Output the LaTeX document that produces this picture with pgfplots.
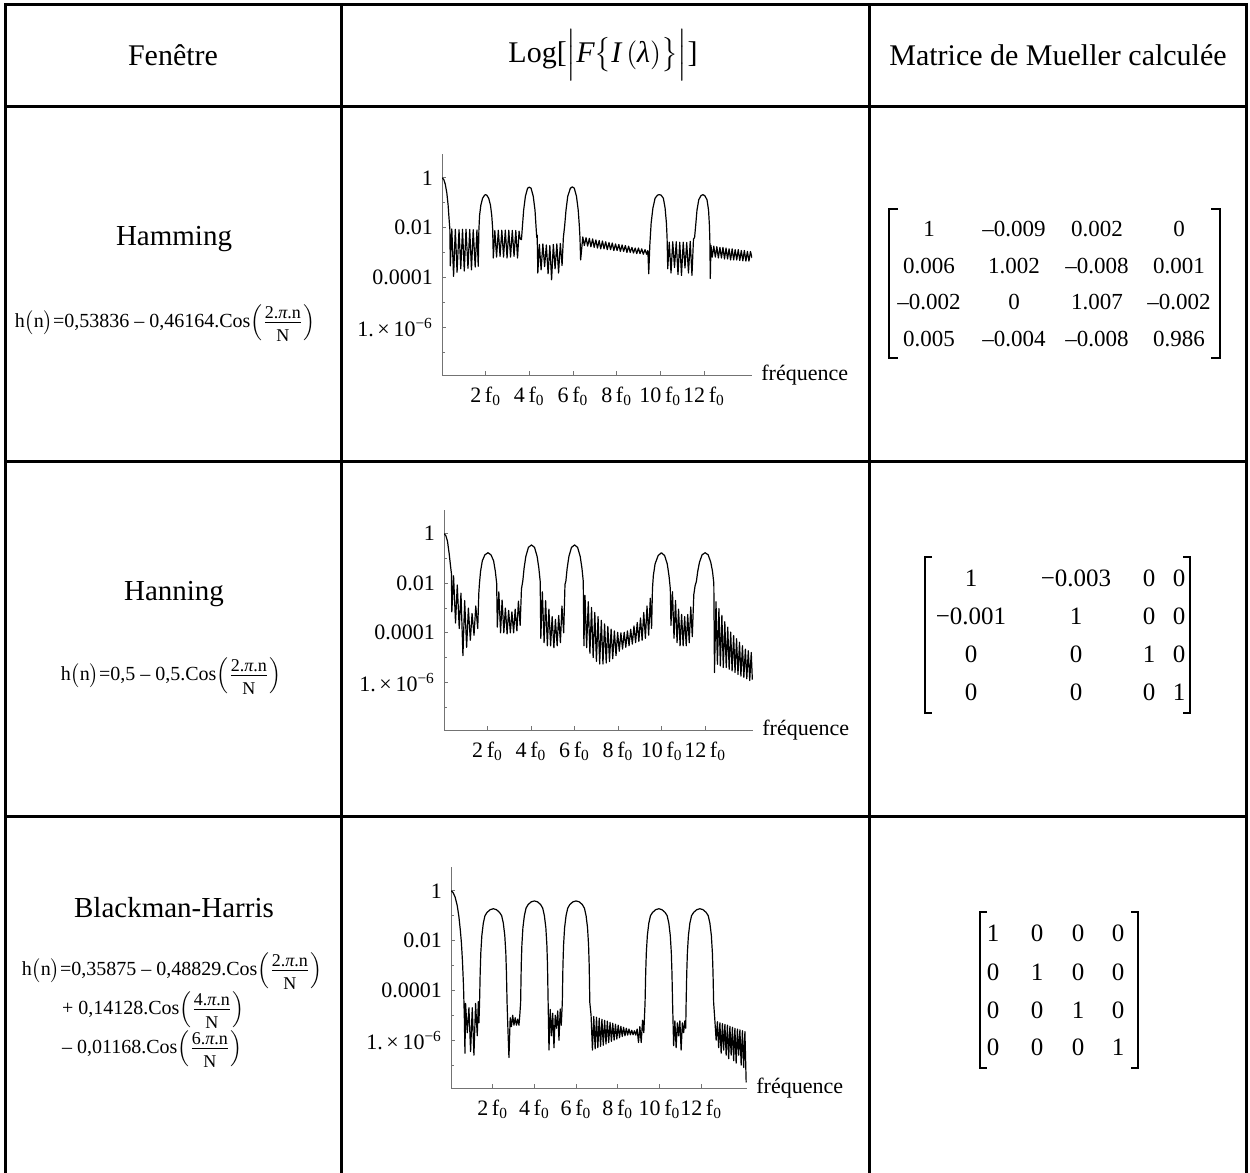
\documentclass[border=0pt]{standalone}
\usepackage{fontspec}
\setmainfont{Liberation Serif}
\usepackage{amsmath}
\usepackage{graphicx}
\usepackage{pgfplots}
\pgfplotsset{compat=1.18}

\newcommand{\tf}{\fontsize{11}{13}\selectfont}
\newcommand{\fz}{\textsubscript{0}}
\newcommand{\mA}[1]{{\fontsize{11.5}{13}\selectfont #1}}
\newcommand{\mB}[1]{{\fontsize{12.5}{14}\selectfont #1}}
\newcommand{\ff}{\fontsize{10}{12}\selectfont}
\newcommand{\fr}[1]{\left(\frac{\text{\fontsize{9}{10}\selectfont #1.\textit{π}.n\rule[-1.6pt]{0pt}{0pt}}}{\text{\fontsize{9}{10}\selectfont \rule{0pt}{8.6pt}N}}\right)}

\pgfplotsset{specaxis/.style={
  scale only axis, xmin=0, xmax=14.2, ymin=1.2e-8, ymax=9,
  axis x line*=bottom, axis y line*=left,
  axis line style={black!55, line width=0.5pt},
  tick align=inside, major tick length=2.2pt, minor tick length=1.3pt,
  every tick/.style={black!55, line width=0.4pt},
  xtick={2,4,6,8,10,12},
  xticklabels={2\,f\fz,4\,f\fz,6\,f\fz,8\,f\fz,10\,f\fz,12\,f\fz},
  ytick={1,1e-2,1e-4,1e-6},
  yticklabels={1,0.01,0.0001,{1.\,×\,10\textsuperscript{−6}}},
  minor ytick={10,1e-1,1e-3,1e-5,1e-7},
  ticklabel style={font=\tf},
  xticklabel style={yshift=-2.5pt},
  yticklabel style={xshift=-1pt},
  xlabel={fréquence},
  xlabel style={at={(axis description cs:1,0)}, anchor=west, xshift=4.5pt, font=\tf, inner sep=0pt},
}}

\begin{document}
\begin{tikzpicture}[x=0.5pt,y=-0.5pt]
\path[use as bounding box] (0,0) rectangle (1250,1173);
% table lines
\draw[line width=1.5pt] (5,1173) -- (5,4) -- (1246,4) -- (1246,1173);
\draw[line width=1.5pt] (5,106) -- (1246,106);
\draw[line width=1.5pt] (5,461) -- (1246,461);
\draw[line width=1.5pt] (5,816) -- (1246,816);
\draw[line width=1.5pt] (341,4) -- (341,1173);
\draw[line width=1.5pt] (869,4) -- (869,1173);

% header
\node[font=\fontsize{15}{18}\selectfont] at (173,55) {Fenêtre};
\node[font=\fontsize{15}{18}\selectfont] at (603,55) {Log[$\Bigl|\textit{F}\bigl\{\textit{I}\,(\textit{λ})\bigr\}\Bigr|$]};
\node[font=\fontsize{15}{18}\selectfont] at (1058,55) {Matrice de Mueller calculée};

% window names and formulas
\node[font=\fontsize{14.5}{17}\selectfont] at (174,239) {Hamming};
\node[font=\ff] at (165,323) {$\text{h}\bigl(\text{n}\bigr)\text{=0,53836 – 0,46164.Cos}\!\fr{2}$};
\node[font=\fontsize{14.5}{17}\selectfont] at (174,594) {Hanning};
\node[font=\ff] at (171,676) {$\text{h}\bigl(\text{n}\bigr)\text{=0,5 – 0,5.Cos}\!\fr{2}$};
\node[font=\fontsize{14.5}{17}\selectfont] at (174,908) {Blackman-Harris};
\node[font=\ff] at (172,971) {$\text{h}\bigl(\text{n}\bigr)\text{=0,35875 – 0,48829.Cos}\!\fr{2}$};
\node[font=\ff, anchor=west] at (55,1010) {$\text{+ 0,14128.Cos}\!\fr{4}$};
\node[font=\ff, anchor=west] at (55,1049) {$\text{– 0,01168.Cos}\!\fr{6}$};

% matrix 1
\draw[line width=0.6pt] (898,209) -- (889,209) -- (889,358) -- (898,358);
\draw[line width=0.6pt] (1211,209) -- (1220,209) -- (1220,358) -- (1211,358);
\node at (929,229) {\mA{1}};      \node at (1014,229) {\mA{–0.009}}; \node at (1097,229) {\mA{0.002}};  \node at (1179,229) {\mA{0}};
\node at (929,266) {\mA{0.006}};  \node at (1014,266) {\mA{1.002}};  \node at (1097,266) {\mA{–0.008}}; \node at (1179,266) {\mA{0.001}};
\node at (929,302) {\mA{–0.002}}; \node at (1014,302) {\mA{0}};      \node at (1097,302) {\mA{1.007}};  \node at (1179,302) {\mA{–0.002}};
\node at (929,339) {\mA{0.005}};  \node at (1014,339) {\mA{–0.004}}; \node at (1097,339) {\mA{–0.008}}; \node at (1179,339) {\mA{0.986}};

% matrix 2
\draw[line width=0.6pt] (932,557) -- (925,557) -- (925,713) -- (932,713);
\draw[line width=0.6pt] (1183,557) -- (1190,557) -- (1190,713) -- (1183,713);
\node at (971,578) {\mB{1}};      \node at (1076,578) {\mB{−0.003}}; \node at (1149,578) {\mB{0}}; \node at (1179,578) {\mB{0}};
\node at (971,616) {\mB{−0.001}}; \node at (1076,616) {\mB{1}};      \node at (1149,616) {\mB{0}}; \node at (1179,616) {\mB{0}};
\node at (971,654) {\mB{0}};      \node at (1076,654) {\mB{0}};      \node at (1149,654) {\mB{1}}; \node at (1179,654) {\mB{0}};
\node at (971,692) {\mB{0}};      \node at (1076,692) {\mB{0}};      \node at (1149,692) {\mB{0}}; \node at (1179,692) {\mB{1}};

% matrix 3
\draw[line width=0.6pt] (987,912) -- (980,912) -- (980,1068) -- (987,1068);
\draw[line width=0.6pt] (1131,912) -- (1138,912) -- (1138,1068) -- (1131,1068);
\node at (993,933) {\mB{1}};  \node at (1037,933) {\mB{0}};  \node at (1078,933) {\mB{0}};  \node at (1118,933) {\mB{0}};
\node at (993,972) {\mB{0}};  \node at (1037,972) {\mB{1}};  \node at (1078,972) {\mB{0}};  \node at (1118,972) {\mB{0}};
\node at (993,1010) {\mB{0}}; \node at (1037,1010) {\mB{0}}; \node at (1078,1010) {\mB{1}}; \node at (1118,1010) {\mB{0}};
\node at (993,1047) {\mB{0}}; \node at (1037,1047) {\mB{0}}; \node at (1078,1047) {\mB{0}}; \node at (1118,1047) {\mB{1}};

\coordinate (O1) at (442,375);
\coordinate (O2) at (444,730);
\coordinate (O3) at (451,1088);

\begin{scope}[x=1cm,y=1cm]
% Hamming
\begin{semilogyaxis}[specaxis, at={(O1)}, anchor=south west, width=155pt, height=110.5pt]
\addplot[black, line width=0.6pt, line join=round] coordinates {
(0,1.0) (0.08,0.85) (0.15,0.55) (0.22,0.25) (0.28,0.08) (0.32,0.025) (0.36,0.0085)
(0.38,2.9e-4) (0.45,0.0088) (0.53,1.1e-4) (0.61,0.0085) (0.69,1.6e-4) (0.78,0.0082) (0.86,2.2e-4) (0.94,0.0085) (1.02,1.8e-4) (1.10,0.0086) (1.19,2.3e-4) (1.27,0.0084) (1.35,2.0e-4) (1.43,0.0082) (1.52,2.6e-4) (1.60,0.008) (1.66,2.8e-4) (1.69,0.008)
(1.72,0.03) (1.78,0.08) (1.86,0.15) (1.95,0.2) (2.0,0.21) (2.05,0.2) (2.14,0.15) (2.22,0.08) (2.28,0.03) (2.32,0.009)
(2.35,6e-4) (2.42,0.0075) (2.50,6.5e-4) (2.58,0.0078) (2.66,7e-4) (2.74,0.0078) (2.82,6.5e-4) (2.90,0.0079) (2.98,6e-4) (3.06,0.0078) (3.14,6.5e-4) (3.22,0.0077) (3.30,7e-4) (3.38,0.0076) (3.46,6e-4) (3.53,0.0072) (3.58,0.0035) (3.64,0.0033)
(3.68,0.01) (3.74,0.05) (3.82,0.18) (3.92,0.38) (4.0,0.42) (4.08,0.38) (4.18,0.18) (4.26,0.05) (4.31,0.01) (4.34,0.004) (4.36,0.005)
(4.39,1.5e-4) (4.46,0.0021) (4.54,2e-4) (4.62,0.0022) (4.70,2.7e-4) (4.78,0.002) (4.86,1.4e-4) (4.94,0.0019) (5.02,8e-5) (5.10,0.0021) (5.18,2.2e-4) (5.26,0.0022) (5.34,1.5e-4) (5.42,0.0023) (5.50,3e-4) (5.56,0.004)
(5.62,0.012) (5.68,0.05) (5.76,0.18) (5.88,0.38) (5.97,0.43) (6.06,0.38) (6.16,0.18) (6.24,0.05) (6.29,0.012) (6.32,0.004) (6.35,5e-4)
(6.45,0.0042) (6.52,0.0019) (6.60,0.0039) (6.67,0.0018) (6.75,0.0037) (6.82,0.0017) (6.90,0.0035) (6.97,0.0016) (7.05,0.0032) (7.12,0.0015) (7.20,0.0030) (7.27,0.0014) (7.35,0.0029) (7.42,0.0014) (7.50,0.0027) (7.57,0.0013) (7.65,0.0025) (7.72,0.0013) (7.80,0.0024) (7.87,0.0012) (7.95,0.0022) (8.02,0.0012) (8.10,0.0021) (8.17,0.0011) (8.25,0.0020) (8.32,0.0011) (8.40,0.0019) (8.47,0.0010) (8.55,0.0018) (8.62,0.0010) (8.70,0.0016) (8.77,9.5e-4) (8.85,0.0015) (8.92,9e-4) (9.00,0.0015) (9.07,9e-4) (9.15,0.0014) (9.22,8.5e-4) (9.30,0.0013) (9.37,8.5e-4) (9.43,0.0012)
(9.47,1.4e-4) (9.52,0.002) (9.58,0.015) (9.66,0.06) (9.76,0.15) (9.87,0.2) (9.95,0.21) (10.04,0.2) (10.14,0.15) (10.22,0.06) (10.28,0.015) (10.31,0.004)
(10.34,2.2e-4) (10.41,0.0026) (10.49,1.5e-4) (10.57,0.0027) (10.65,2.5e-4) (10.73,0.0027) (10.81,1.3e-4) (10.89,0.0026) (10.97,1.2e-4) (11.05,0.0026) (11.13,2.4e-4) (11.21,0.0025) (11.29,1.5e-4) (11.37,0.0028) (11.45,1.2e-4) (11.52,0.0035) (11.57,0.004)
(11.62,0.012) (11.68,0.05) (11.76,0.13) (11.86,0.19) (11.95,0.21) (12.04,0.19) (12.14,0.13) (12.21,0.05) (12.25,0.012) (12.27,0.003) (12.29,9e-5)
(12.32,0.0019) (12.38,6.5e-4) (12.45,0.0018) (12.52,6.5e-4) (12.59,0.0017) (12.66,6e-4) (12.73,0.0016) (12.80,6e-4) (12.87,0.0016) (12.94,5.5e-4) (13.01,0.0015) (13.08,5.5e-4) (13.15,0.0014) (13.22,5e-4) (13.29,0.0014) (13.36,5e-4) (13.43,0.0013) (13.50,5e-4) (13.57,0.0013) (13.64,4.8e-4) (13.71,0.0012) (13.78,4.6e-4) (13.85,0.0012) (13.92,4.5e-4) (13.99,0.0011) (14.06,4.5e-4) (14.13,0.0011) (14.2,6e-4)
};
\end{semilogyaxis}

% Hanning
\begin{semilogyaxis}[specaxis, at={(O2)}, anchor=south west, width=154.5pt, height=110pt]
\addplot[black, line width=0.6pt, line join=round] coordinates {
(0,1.0) (0.08,0.85) (0.16,0.5) (0.24,0.15) (0.30,0.05) (0.34,0.025)
(0.36,7e-4) (0.44,0.02) (0.53,2.5e-4) (0.61,0.0085) (0.70,1.5e-4) (0.78,0.004) (0.87,1.2e-5) (0.95,0.002) (1.04,2.6e-5) (1.12,0.001) (1.21,5e-5) (1.29,6e-4) (1.38,8e-5) (1.46,0.0012) (1.55,1.5e-4) (1.60,0.004)
(1.63,0.01) (1.68,0.03) (1.76,0.08) (1.88,0.14) (2.02,0.17) (2.16,0.14) (2.28,0.08) (2.36,0.03) (2.42,0.01)
(2.45,1.7e-4) (2.52,0.0045) (2.60,1e-4) (2.67,0.0021) (2.75,1e-4) (2.82,0.001) (2.90,9e-5) (2.97,8e-4) (3.05,1e-4) (3.12,7e-4) (3.20,1e-4) (3.27,9e-4) (3.35,1.2e-4) (3.42,0.0019) (3.50,2e-4) (3.56,0.006)
(3.62,0.012) (3.68,0.04) (3.76,0.12) (3.88,0.28) (4.02,0.35) (4.16,0.28) (4.28,0.12) (4.36,0.04) (4.42,0.012)
(4.45,6e-5) (4.52,0.0045) (4.60,4e-5) (4.67,0.002) (4.75,3e-5) (4.82,9e-4) (4.90,3e-5) (4.97,4.5e-4) (5.05,2.5e-5) (5.12,3.5e-4) (5.20,3e-5) (5.27,5e-4) (5.35,4e-5) (5.42,0.0012) (5.50,1e-4) (5.56,0.009)
(5.60,0.012) (5.66,0.04) (5.74,0.12) (5.86,0.28) (6.0,0.35) (6.14,0.28) (6.26,0.12) (6.34,0.04) (6.40,0.012)
(6.43,3e-5) (6.48,0.0032) (6.555,2.5e-5) (6.63,0.0018) (6.705,1.5e-5) (6.78,0.00105) (6.855,1e-5) (6.93,6.6e-4) (7.005,7e-6) (7.08,4.5e-4) (7.155,5.5e-6) (7.23,3.2e-4) (7.305,5.5e-6) (7.38,2.3e-4) (7.455,6e-6) (7.53,1.8e-4) (7.605,7e-6) (7.68,1.4e-4) (7.755,9e-6) (7.83,1.2e-4) (7.905,1.2e-5) (7.98,1.05e-4) (8.055,1.8e-5) (8.13,1e-4) (8.205,2.2e-5) (8.28,1.05e-4) (8.355,2.6e-5) (8.43,1.2e-4) (8.505,3e-5) (8.58,1.4e-4) (8.655,3.5e-5) (8.73,1.9e-4) (8.805,4e-5) (8.88,2.6e-4) (8.955,4.5e-5) (9.03,4e-4) (9.105,5e-5) (9.18,6.6e-4) (9.255,6e-5) (9.33,0.0012) (9.405,8e-5) (9.48,0.0025) (9.54,1.5e-4)
(9.58,0.006) (9.62,0.02) (9.70,0.06) (9.84,0.13) (9.99,0.17) (10.14,0.13) (10.26,0.06) (10.34,0.02) (10.40,0.006)
(10.43,2e-4) (10.50,0.0045) (10.57,6e-5) (10.64,0.002) (10.71,4e-5) (10.78,9e-4) (10.85,3e-5) (10.92,5.5e-4) (10.99,3e-5) (11.06,4.5e-4) (11.13,3e-5) (11.20,5.5e-4) (11.27,4e-5) (11.34,0.0011) (11.41,7e-5) (11.48,0.0035) (11.54,0.008)
(11.60,0.012) (11.66,0.03) (11.74,0.07) (11.86,0.14) (12.0,0.17) (12.14,0.14) (12.26,0.07) (12.34,0.03) (12.40,0.01)
(12.43,2.5e-6) (12.50,0.0018) (12.565,5.4e-6) (12.635,9.5e-4) (12.70,4.6e-6) (12.77,5.1e-4) (12.835,4e-6) (12.905,2.8e-4) (12.97,4e-6) (13.04,1.7e-4) (13.105,3.4e-6) (13.175,1.07e-4) (13.24,2.9e-6) (13.31,7.8e-5) (13.375,2.5e-6) (13.445,5.8e-5) (13.51,2.1e-6) (13.58,4.2e-5) (13.645,1.8e-6) (13.715,3e-5) (13.78,1.6e-6) (13.85,2.2e-5) (13.915,1.4e-6) (13.985,1.9e-5) (14.05,1.2e-6) (14.12,1.6e-5) (14.17,1.3e-6)
};
\end{semilogyaxis}

% Blackman-Harris
\begin{semilogyaxis}[specaxis, at={(O3)}, anchor=south west, width=148pt, height=110.5pt]
\addplot[black, line width=0.6pt, line join=round] coordinates {
(0,1.0) (0.1,0.85) (0.2,0.55) (0.3,0.25) (0.38,0.09) (0.45,0.025) (0.5,0.008) (0.55,0.0015) (0.6,1.5e-4) (0.64,8e-6) (0.67,3e-7)
(0.70,3e-5) (0.78,2e-6) (0.86,2e-5) (0.94,3.5e-7) (1.02,2e-5) (1.10,2.5e-7) (1.18,3e-5) (1.26,1.5e-6) (1.31,3.5e-5) (1.34,5e-6)
(1.37,3.2e-5) (1.40,5e-4) (1.43,0.0032) (1.48,0.016) (1.55,0.05) (1.63,0.1) (1.73,0.135) (1.88,0.174) (2.03,0.19) (2.18,0.174) (2.33,0.135) (2.43,0.1) (2.51,0.05) (2.58,0.016) (2.63,0.0032) (2.66,5e-4) (2.69,3.2e-5)
(2.72,5e-6) (2.78,2e-7) (2.84,8e-6) (2.90,3.5e-6) (2.96,1e-5) (3.02,4e-6) (3.08,8e-6) (3.14,4e-6) (3.20,7e-6) (3.26,4e-6) (3.30,1e-5)
(3.34,3.2e-5) (3.37,0.001) (3.40,0.0065) (3.45,0.033) (3.52,0.1) (3.60,0.2) (3.70,0.28) (3.85,0.36) (4.0,0.39) (4.15,0.36) (4.30,0.28) (4.40,0.2) (4.48,0.1) (4.55,0.033) (4.60,0.0065) (4.63,0.001) (4.66,3.2e-5)
(4.70,4e-7) (4.76,1.7e-5) (4.82,1.5e-6) (4.88,1.2e-5) (4.94,5e-7) (5.0,1e-5) (5.06,3e-6) (5.12,1.5e-5) (5.18,1e-6) (5.24,1.8e-5) (5.29,4e-6)
(5.34,3.2e-5) (5.37,0.001) (5.40,0.0065) (5.45,0.033) (5.52,0.1) (5.60,0.2) (5.70,0.28) (5.85,0.36) (6.0,0.39) (6.15,0.36) (6.30,0.28) (6.40,0.2) (6.48,0.1) (6.55,0.033) (6.60,0.0065) (6.63,0.001) (6.66,3.2e-5)
(6.72,1e-5) (6.785,4e-7) (6.85,9e-6) (6.915,4.5e-7) (6.98,8.3e-6) (7.045,5e-7) (7.11,7.6e-6) (7.175,5.6e-7) (7.24,6.9e-6) (7.305,6.3e-7) (7.37,6.3e-6) (7.435,7e-7) (7.50,5.8e-6) (7.565,8e-7) (7.63,5.2e-6) (7.695,9e-7) (7.76,4.8e-6) (7.825,1e-6) (7.89,4.4e-6) (7.955,1.1e-6) (8.02,4e-6) (8.085,1.25e-6) (8.15,3.6e-6) (8.215,1.4e-6) (8.28,3.3e-6) (8.345,1.5e-6) (8.41,3e-6) (8.475,1.6e-6) (8.54,2.8e-6) (8.605,1.65e-6) (8.67,2.5e-6) (8.735,1.65e-6) (8.80,2.4e-6) (8.865,1.6e-6) (8.93,2.8e-6) (8.995,8e-7) (9.06,3.5e-6) (9.125,8e-7) (9.19,6.3e-6) (9.25,2e-6)
(9.31,3.2e-5) (9.34,5e-4) (9.37,0.0032) (9.42,0.016) (9.49,0.05) (9.57,0.1) (9.67,0.135) (9.82,0.174) (9.97,0.19) (10.12,0.174) (10.27,0.135) (10.37,0.1) (10.45,0.05) (10.52,0.016) (10.57,0.0032) (10.60,5e-4) (10.63,3.2e-5)
(10.68,6e-7) (10.74,6e-6) (10.80,5e-7) (10.86,5e-6) (10.92,1.5e-6) (10.98,6e-6) (11.04,4e-7) (11.10,5e-6) (11.16,2e-6) (11.22,6e-6) (11.26,3e-6)
(11.28,3.2e-5) (11.31,5e-4) (11.34,0.0032) (11.39,0.016) (11.46,0.05) (11.54,0.1) (11.64,0.135) (11.79,0.174) (11.94,0.19) (12.09,0.174) (12.24,0.135) (12.34,0.1) (12.42,0.05) (12.49,0.016) (12.54,0.0032) (12.57,5e-4) (12.60,3.2e-5)
(12.66,6e-6) (12.72,1e-6) (12.78,5.5e-6) (12.84,5e-7) (12.90,5e-6) (12.96,3e-7) (13.02,4.6e-6) (13.08,4e-7) (13.14,4.3e-6) (13.20,2.5e-7) (13.26,4e-6) (13.32,1.8e-7) (13.38,3.6e-6) (13.44,2.5e-7) (13.50,3.3e-6) (13.56,1.5e-7) (13.62,3e-6) (13.68,1.2e-7) (13.74,2.8e-6) (13.80,2.5e-7) (13.86,2.6e-6) (13.92,1e-7) (13.98,2.4e-6) (14.04,8e-8) (14.10,2.2e-6) (14.16,2e-8)
};
\end{semilogyaxis}
\end{scope}
\end{tikzpicture}
\end{document}
